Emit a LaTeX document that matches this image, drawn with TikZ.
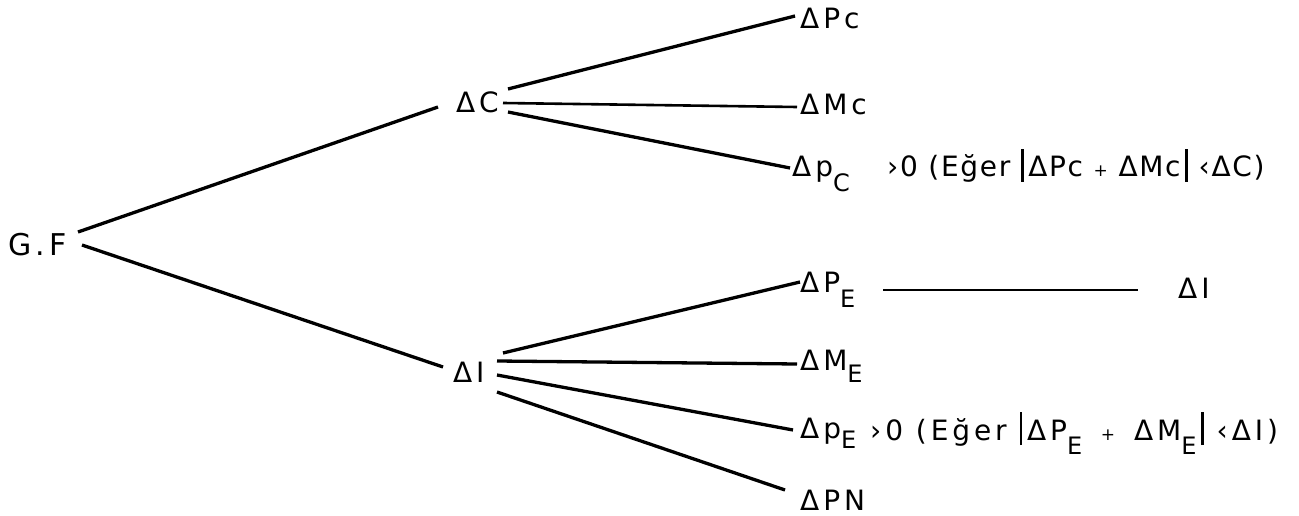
\documentclass[tikz,border=0pt]{standalone}
\usepackage{fontspec}
\setmainfont{DejaVu Sans}[LetterSpace=14]
\newfontfamily\lblfont{DejaVu Sans}[LetterSpace=14]
\newfontfamily\condfont{DejaVu Sans}[LetterSpace=6]
\newcommand\lsub[2][13pt]{\lower#1\hbox{\fontsize{24pt}{24pt}\selectfont #2}}
\newcommand\absbar{\rule[-5pt]{2.8pt}{33pt}}
\newcommand\smallplus{{\fontsize{17pt}{17pt}\selectfont +}}
\begin{document}
\begin{tikzpicture}[x=1pt,y=-1pt,
  lbl/.style={inner sep=0pt, anchor=base west, font=\lblfont\fontsize{28pt}{28pt}\selectfont},
  condlbl/.style={lbl, font=\condfont\fontsize{28pt}{28pt}\selectfont},
  branch/.style={line width=3.3pt},
  thinbranch/.style={line width=2.6pt}]
\useasboundingbox (0,0) rectangle (1299,516);
% labels
\node[lbl, font=\lblfont\fontsize{30pt}{30pt}\selectfont] (gf) at (8,255) {G.F};
\node[lbl] (dC) at (456,113) {ΔC};
\node[lbl] (dI) at (453,382) {ΔI};
\node[lbl] (dPc) at (800,29) {ΔPc};
\node[lbl] (dMc) at (800,115) {ΔMc};
\node[lbl] (dpc) at (792,177) {Δp\lsub[15pt]{C}};
\node[condlbl] (cond1) at (887,177) {›0 (Eğer \absbar\,ΔPc \smallplus{} ΔMc\,\absbar{} ‹ΔC)};
\node[lbl] (dPE) at (800,292) {ΔP\lsub[15pt]{E}};
\node[lbl] (dI2) at (1178,298) {ΔI};
\node[lbl] (dME) at (800,370) {ΔM\lsub[12pt]{E}};
\node[lbl] (dpE) at (800,438) {Δp\lsub[10pt]{E}};
\node[lbl] (cond2) at (870,440) {›0 (Eğer \absbar\,ΔP\lsub[14pt]{E}\hspace{6pt} \smallplus{}\hspace{6pt} ΔM\lsub[14pt]{E}\,\absbar{} ‹ΔI)};
\node[lbl] (dPN) at (800,510) {ΔPN};
% connectors
\draw[branch] ([shift={(70,-23)}]gf.base west) -- ([shift={(-18,-6)}]dC.base west);
\draw[branch] ([shift={(74,-10)}]gf.base west) -- ([shift={(-10,-15)}]dI.base west);
\draw[branch] ([shift={(52,-24)}]dC.base west) -- ([shift={(-5,-13)}]dPc.base west);
\draw[thinbranch] ([shift={(47,-10)}]dC.base west) -- ([shift={(-3,-8)}]dMc.base west);
\draw[branch] ([shift={(52,-1)}]dC.base west) -- ([shift={(-2,-9)}]dpc.base west);
\draw[branch] ([shift={(50,-29)}]dI.base west) -- ([shift={(0,-10)}]dPE.base west);
\draw[branch] ([shift={(44,-21)}]dI.base west) -- ([shift={(-3,-6)}]dME.base west);
\draw[branch] ([shift={(44,-7)}]dI.base west) -- ([shift={(-7,-8)}]dpE.base west);
\draw[branch] ([shift={(44,10)}]dI.base west) -- ([shift={(-15,-20)}]dPN.base west);
\draw[thinbranch] ([shift={(83,-2)}]dPE.base west) -- ([shift={(-40,-8)}]dI2.base west);
\end{tikzpicture}
\end{document}
